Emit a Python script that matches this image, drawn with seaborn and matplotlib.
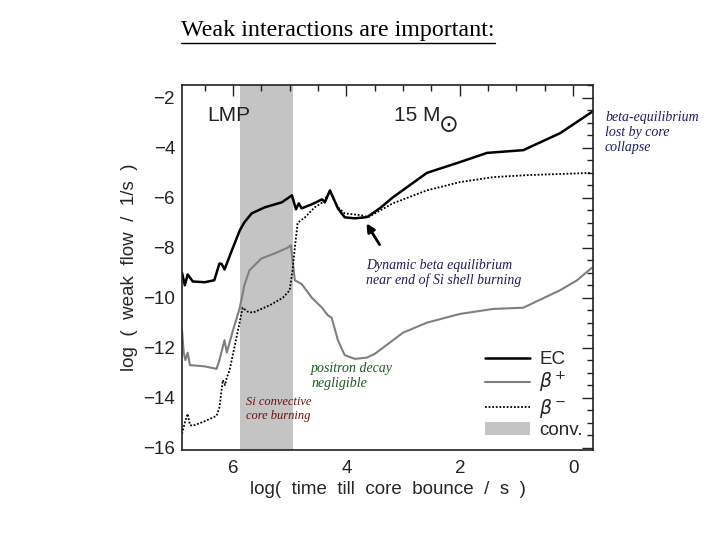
import numpy as np
import pandas as pd
import matplotlib
matplotlib.use("Agg")
import matplotlib.pyplot as plt
from matplotlib.lines import Line2D
from matplotlib.patches import Patch
import seaborn as sns

# time till core bounce (log s) and weak flow (log 1/s)
ec_x = [6.90, 6.85, 6.80, 6.71, 6.50, 6.33, 6.24, 6.20, 6.15, 6.02, 5.88, 5.80, 5.67,
        5.44, 5.14, 4.96, 4.89, 4.84, 4.79, 4.60, 4.43, 4.38, 4.29, 4.15, 4.03, 3.85,
        3.67, 3.62, 3.40, 3.18, 2.58, 2.00, 1.52, 0.88, 0.23, -0.33]
ec_y = [-9.0, -9.5, -9.07, -9.35, -9.38, -9.3, -8.63, -8.65, -8.87, -8.1, -7.3, -6.98, -6.62,
        -6.38, -6.18, -5.9, -6.46, -6.22, -6.42, -6.25, -6.06, -6.18, -5.7, -6.42, -6.78, -6.82,
        -6.78, -6.75, -6.4, -5.98, -5.0, -4.57, -4.2, -4.09, -3.41, -2.56]

bp_x = [6.90, 6.87, 6.84, 6.80, 6.76, 6.50, 6.29, 6.24, 6.15, 6.11, 6.00, 5.88, 5.80, 5.71,
        5.50, 5.27, 5.04, 4.98, 4.91, 4.79, 4.61, 4.43, 4.33, 4.26, 4.15, 4.03, 3.85, 3.64,
        3.50, 3.00, 2.58, 2.00, 1.41, 0.88, 0.23, -0.07, -0.33]
bp_y = [-11.3, -12.2, -12.5, -12.2, -12.7, -12.75, -12.85, -12.5, -11.7, -12.2, -11.3, -10.4,
        -9.5, -8.9, -8.43, -8.23, -8.0, -7.9, -9.3, -9.45, -10.0, -10.4, -10.7, -10.8, -11.7,
        -12.3, -12.45, -12.4, -12.25, -11.4, -11.0, -10.65, -10.45, -10.4, -9.7, -9.3, -8.8]

bm_x = [6.90, 6.85, 6.80, 6.76, 6.71, 6.50, 6.29, 6.24, 6.18, 6.14, 6.11, 6.06, 5.94, 5.83,
        5.75, 5.65, 5.35, 5.12, 5.00, 4.95, 4.91, 4.86, 4.73, 4.56, 4.42, 4.29, 4.15, 4.03,
        3.73, 3.62, 3.18, 2.58, 2.00, 1.41, 0.81, -0.33]
bm_y = [-15.45, -15.0, -14.65, -15.1, -15.13, -14.95, -14.73, -14.4, -13.3, -13.5, -13.2, -12.9,
        -11.6, -10.4, -10.55, -10.6, -10.3, -10.0, -9.7, -8.9, -8.0, -7.0, -6.78, -6.38, -6.18,
        -5.77, -6.38, -6.62, -6.7, -6.78, -6.22, -5.7, -5.37, -5.17, -5.09, -5.0]

conv_band = [5.88, 4.95]  # convective core burning

sns.set_style("white")
plt.rcParams['font.family'] = ['Liberation Sans', 'DejaVu Sans']
plt.rcParams['mathtext.fontset'] = 'dejavusans'

fig = plt.figure(figsize=(7.2, 5.4), dpi=100)
ax = fig.add_axes([182 / 720, 1 - 450 / 540, 411 / 720, 365 / 540])

ax.axvspan(conv_band[0], conv_band[1], color='#c4c4c4', lw=0, zorder=0)

sns.lineplot(x=bp_x, y=bp_y, ax=ax, color='#7f7f7f', lw=1.5, sort=False, estimator=None)
sns.lineplot(x=bm_x, y=bm_y, ax=ax, color='black', lw=1.3, ls=(0, (1, 1)), sort=False, estimator=None)
sns.lineplot(x=ec_x, y=ec_y, ax=ax, color='black', lw=1.8, sort=False, estimator=None)

ax.set_xlim(6.9, -0.35)
ax.set_ylim(-16.1, -1.48)
ax.set_xticks([6, 4, 2, 0])
ax.set_xticks(np.arange(6.5, -0.3, -0.5), minor=True)
ax.set_yticks([-16, -14, -12, -10, -8, -6, -4, -2])
ax.set_yticks(np.arange(-16, -1.4, 0.5), minor=True)
ax.tick_params(which='both', direction='in', top=True, right=True, width=1, colors='#222222',
               labelsize=13.5)
ax.tick_params(which='major', length=8)
ax.tick_params(which='minor', length=4)
ax.tick_params(axis='x', pad=7)
ax.tick_params(axis='y', pad=5)
for s in ax.spines.values():
    s.set_linewidth(1.2)
    s.set_color('#222222')

ax.set_xlabel('log(  time  till  core  bounce  /  s  )', fontsize=13.5, labelpad=3)
ax.set_ylabel('log  (  weak  flow  /  1/s  )', fontsize=13.5, labelpad=4)

ax.text(6.45, -2.7, 'LMP', fontsize=15, va='center', ha='left', color='#222222')
ax.text(3.16, -2.7, '15 M', fontsize=15, va='center', ha='left', color='#222222')
ax.text(2.19, -3.1, '\u2299', fontsize=17, va='center', ha='center', color='#222222',
        family=['DejaVu Sans'])

handles = [Line2D([], [], color='black', lw=1.8),
           Line2D([], [], color='#7f7f7f', lw=1.5),
           Line2D([], [], color='black', lw=1.3, ls=(0, (1, 1))),
           Patch(color='#c4c4c4', lw=0)]
labels = ['EC', r'$\beta^+$', r'$\beta^-$', 'conv.']
ax.legend(handles, labels, loc='upper left', bbox_to_anchor=(485 / 720, 1 - 351 / 540),
          bbox_transform=fig.transFigure, frameon=False, fontsize=13.5, handlelength=2.4,
          handletextpad=0.5, labelspacing=0.12, borderpad=0, borderaxespad=0)

serif = ['Liberation Serif', 'DejaVu Serif']
fig.text(605 / 720, 1 - 133 / 540, 'beta-equilibrium\nlost by core\ncollapse', fontsize=10,
         family=serif, style='italic', color='#1c1c6a', va='center', ha='left', linespacing=1.2)
fig.text(366 / 720, 1 - 273 / 540, 'Dynamic beta equilibrium\nnear end of Si shell burning',
         fontsize=10, family=serif, style='italic', color='#1c1c5c', va='center', ha='left',
         linespacing=1.2)
fig.text(311 / 720, 1 - 376 / 540, 'positron decay\nnegligible', fontsize=10, family=serif,
         style='italic', color='#1e5a1e', va='center', ha='left', linespacing=1.2)
fig.text(246 / 720, 1 - 409 / 540, 'Si convective\ncore burning', fontsize=9, family=serif,
         style='italic', color='#6b1010', va='center', ha='left', linespacing=1.2)

ax.annotate('', xy=(365, 540 - 221), xycoords='figure pixels', xytext=(381, 540 - 247),
            textcoords='figure pixels',
            arrowprops=dict(arrowstyle='-|>', color='black', lw=2, mutation_scale=12))

title = fig.text(181 / 720, 1 - 31 / 540, 'Weak interactions are important:', fontsize=17.3,
                 family=serif, color='black', va='center', ha='left')
fig.canvas.draw()
bb = title.get_window_extent().transformed(fig.transFigure.inverted())
fig.add_artist(Line2D([bb.x0, bb.x1], [1 - 43 / 540, 1 - 43 / 540], transform=fig.transFigure,
                      color='black', lw=1))

fig.savefig('out.png', dpi=100)
